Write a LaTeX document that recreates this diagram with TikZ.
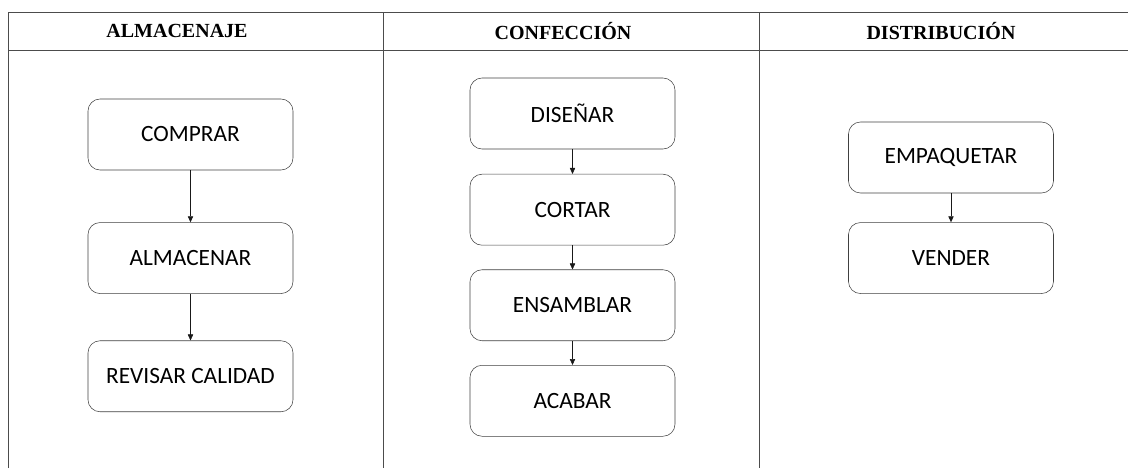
\documentclass[tikz,border=0pt]{standalone}
\usepackage{fontspec}
\setmainfont{Carlito}
\newfontfamily\headfont{Liberation Serif}
\usetikzlibrary{positioning,arrows.meta}

\begin{document}
\begin{tikzpicture}[x=0.75pt, y=-0.75pt, node distance=18pt,
    block/.style={rectangle, draw=black!75, rounded corners=9pt, minimum width=153.75pt, minimum height=53.25pt, inner sep=0pt, font=\fontsize{17.5}{20}\selectfont},
    head/.style={font=\headfont\bfseries\fontsize{15}{18}\selectfont},
    arrow/.style={-{Triangle[length=4.5pt,width=4pt]}, black!90},
    lane/.style={draw=black!70, line width=0.75pt}]

    \useasboundingbox (0,0) rectangle (1128,468);

    % carriles
    \draw[lane] (8,468) -- (8,12) -- (1128,12);
    \draw[lane] (8,50) -- (1128,50);
    \draw[lane] (383,12) -- (383,468);
    \draw[lane] (759,12) -- (759,468);

    \node[head] (almacenaje) at (177,31) {ALMACENAJE};
    \node[head] (confeccion) at (563,31) {CONFECCIÓN};
    \node[head] (distribucion) at (941,31) {DISTRIBUCIÓN};

    % almacenaje
    \node[block] (comprar) at (190.5,134.5) {COMPRAR};
    \node[block, below=39pt of comprar] (almacenar) {ALMACENAR};
    \node[block, below=35pt of almacenar] (revisar) {REVISAR CALIDAD};

    % confeccion
    \node[block] (disenar) at (572.5,113.5) {DISEÑAR};
    \node[block, below=18.5pt of disenar] (cortar) {CORTAR};
    \node[block, below=18pt of cortar] (ensamblar) {ENSAMBLAR};
    \node[block, below=18pt of ensamblar] (acabar) {ACABAR};

    % distribucion
    \node[block] (empaquetar) at (951,157.5) {EMPAQUETAR};
    \node[block, below=21.75pt of empaquetar] (vender) {VENDER};

    \draw[arrow] (comprar) -- (almacenar);
    \draw[arrow] (almacenar) -- (revisar);
    \draw[arrow] (disenar) -- (cortar);
    \draw[arrow] (cortar) -- (ensamblar);
    \draw[arrow] (ensamblar) -- (acabar);
    \draw[arrow] (empaquetar) -- (vender);
\end{tikzpicture}
\end{document}
